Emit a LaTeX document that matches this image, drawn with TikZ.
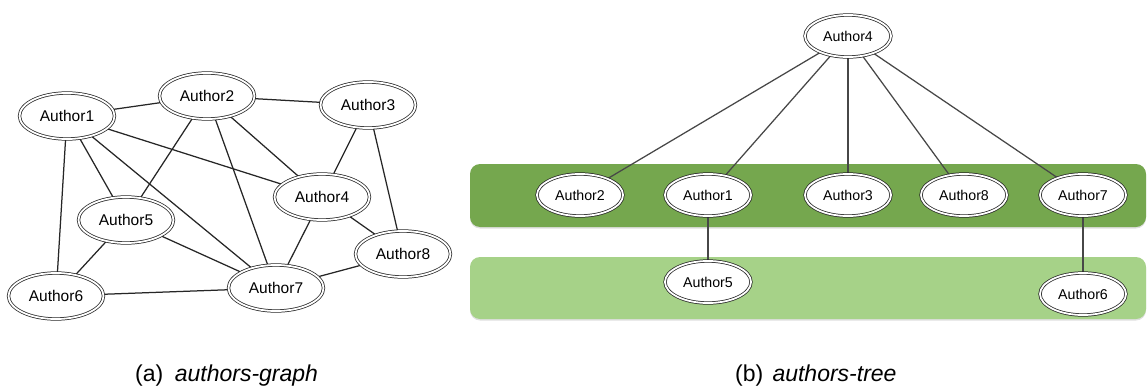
\documentclass[tikz,border=0pt]{standalone}
\usepackage{fontspec}
\setmainfont{Liberation Sans}
\usetikzlibrary{shapes.geometric,shadows}
\pgfdeclarelayer{bands}
\pgfdeclarelayer{links}
\pgfsetlayers{bands,links,main}
\definecolor{bandDark}{RGB}{117,167,78}
\definecolor{bandLight}{RGB}{166,210,136}
\begin{document}
\begin{tikzpicture}[x=1pt,y=-1pt,
  author/.style={ellipse, draw=black!85, line width=0.75pt, double=white,
    double distance=1.8pt, fill=white, inner sep=0pt},
  gnode/.style={author, minimum width=95pt, minimum height=46pt,
    font=\fontsize{15.5}{18}\selectfont},
  tnode/.style={author, minimum width=86pt, minimum height=42pt,
    font=\fontsize{14.2}{17}\selectfont},
  gedge/.style={line width=1.25pt, black!85},
  tedge/.style={line width=1.25pt, black!72},
  band/.style={rounded corners=10pt,
    drop shadow={opacity=0.25, shadow xshift=0pt, shadow yshift=-1.5pt}},
  captext/.style={font=\fontsize{23}{27}\selectfont, anchor=base west, inner sep=0pt}
]
\useasboundingbox (0,0) rectangle (1147,388);

% ---------- (a) co-author graph ----------
\node[gnode] (g1) at (67,116)  {Author1};
\node[gnode] (g2) at (207,96)  {Author2};
\node[gnode] (g3) at (368,105) {Author3};
\node[gnode] (g4) at (322,197) {Author4};
\node[gnode] (g5) at (126,220) {Author5};
\node[gnode] (g6) at (56,296)  {Author6};
\node[gnode] (g7) at (276,288) {Author7};
\node[gnode] (g8) at (403,254) {Author8};

\begin{pgfonlayer}{links}
  \foreach \a/\b in {g1/g2, g2/g3, g1/g5, g1/g6, g1/g7, g1/g4, g2/g5, g2/g7,
                     g2/g4, g3/g4, g3/g8, g4/g7, g4/g8, g5/g7, g5/g6, g6/g7, g7/g8}
    \draw[gedge] (\a) -- (\b);
\end{pgfonlayer}

% ---------- (b) co-author tree ----------
\begin{pgfonlayer}{bands}
  \fill[bandDark, band]  (470,164) rectangle (1146,227);
  \fill[bandLight, band] (470,257) rectangle (1146,319);
\end{pgfonlayer}

\node[tnode] (t4) at (848,36)  {Author4};
\node[tnode] (t2) at (580,195) {Author2};
\node[tnode] (t1) at (708,195) {Author1};
\node[tnode] (t3) at (848,195) {Author3};
\node[tnode] (t8) at (964,195) {Author8};
\node[tnode] (t7) at (1083,195) {Author7};
\node[tnode] (t5) at (708,282) {Author5};
\node[tnode] (t6) at (1083,294) {Author6};

\begin{pgfonlayer}{links}
  \foreach \c in {t2,t1,t3,t8,t7}
    \draw[tedge] (t4) -- (\c);
  \draw[tedge] (t1) -- (t5);
  \draw[tedge] (t7) -- (t6);
\end{pgfonlayer}

% ---------- captions ----------
\node[captext] (capa) at (135,381) {(a)\hspace{0.5em}\textit{authors-graph}};
\node[captext] (capb) at (735,381) {(b)\hspace{0.4em}\textit{authors-tree}};
\end{tikzpicture}
\end{document}
